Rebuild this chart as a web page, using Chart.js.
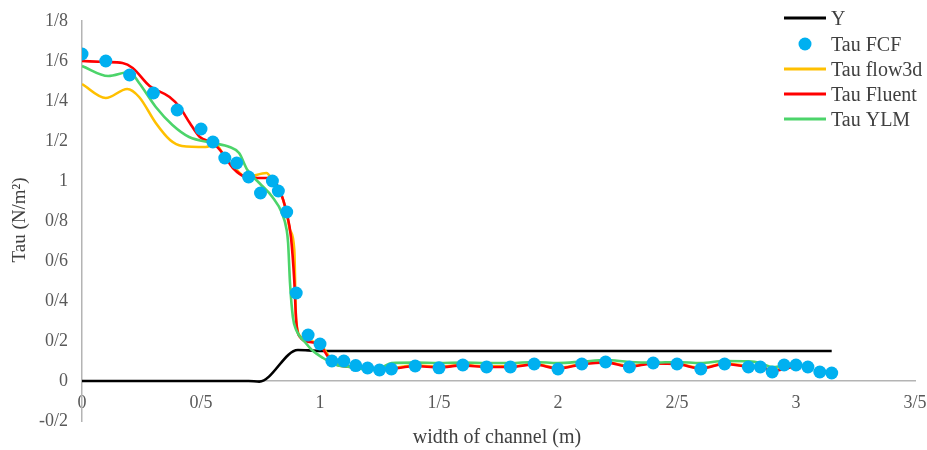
<!DOCTYPE html>
<html>
<head>
<meta charset="utf-8">
<title>Tau across channel width</title>
<script src="https://cdn.jsdelivr.net/npm/chart.js@4.4.1/dist/chart.umd.min.js"></script>
<style>
    html, body { margin: 0; padding: 0; background: #ffffff; }
    #wrap { width: 927px; height: 450px; }
</style>
</head>
<body>
<div id="wrap"><canvas id="tauChart" width="927" height="450"></canvas></div>
<script>
/* ---------------- DATA ---------------- */

// bed profile (Y)
const bedX = [0, 0.70, 0.745, 0.907, 0.95, 1.0, 3.15];
const bedY = [0, 0, -0.003, 0.155, 0.153, 0.15, 0.15];

// measured shear stress (Tau FCF)
const fcfX = [0, 0.1, 0.2, 0.3, 0.4, 0.5, 0.55, 0.6, 0.65, 0.7, 0.75, 0.8, 0.825, 0.86, 0.9,
    0.95, 1.0, 1.05, 1.1, 1.15, 1.2, 1.25, 1.3, 1.4, 1.5, 1.6, 1.7, 1.8, 1.9, 2.0,
    2.1, 2.2, 2.3, 2.4, 2.5, 2.6, 2.7, 2.8, 2.85, 2.9, 2.95, 3.0, 3.05, 3.1, 3.15];
const fcfY = [1.635, 1.60, 1.53, 1.44, 1.355, 1.26, 1.195, 1.115, 1.09, 1.02, 0.94, 1.0, 0.95, 0.845, 0.44,
    0.23, 0.185, 0.10, 0.10, 0.077, 0.065, 0.055, 0.06, 0.075, 0.066, 0.08, 0.07, 0.07, 0.085, 0.06,
    0.085, 0.095, 0.07, 0.09, 0.085, 0.06, 0.085, 0.07, 0.07, 0.045, 0.08, 0.08, 0.07, 0.045, 0.04];

// Tau flow3d
const flowX = [0, 0.1, 0.19, 0.24, 0.31, 0.37, 0.42, 0.52, 0.56, 0.6, 0.65, 0.69, 0.775, 0.8, 0.83,
    0.86, 0.874, 0.892, 0.899, 0.916, 0.958, 1.0, 1.034, 1.055, 1.126, 1.2, 1.25, 1.3, 1.4, 1.5,
    1.6, 1.7, 1.8, 1.9, 2.0, 2.1, 2.2, 2.3, 2.4, 2.5, 2.6, 2.7, 2.8, 2.85, 2.9, 3.0];
const flowY = [1.485, 1.415, 1.46, 1.42, 1.29, 1.205, 1.175, 1.17, 1.185, 1.12, 1.055, 1.02, 1.04, 1.005, 0.955,
    0.84, 0.755, 0.655, 0.32, 0.225, 0.2, 0.185, 0.13, 0.095, 0.073, 0.064, 0.058, 0.063, 0.078, 0.071,
    0.08, 0.073, 0.073, 0.085, 0.066, 0.085, 0.095, 0.075, 0.09, 0.087, 0.066, 0.087, 0.075, 0.072, 0.055, 0.078];

// Tau Fluent
const fluentX = [0, 0.1, 0.17, 0.213, 0.284, 0.368, 0.41, 0.453, 0.495, 0.55, 0.59, 0.634, 0.69, 0.76, 0.79,
    0.83, 0.86, 0.878, 0.892, 0.9, 0.916, 0.958, 1.0, 1.034, 1.055, 1.126, 1.2, 1.25, 1.3, 1.4,
    1.5, 1.6, 1.7, 1.8, 1.9, 2.0, 2.1, 2.2, 2.3, 2.4, 2.5, 2.6, 2.7, 2.8, 2.85, 2.9, 3.0];
const fluentY = [1.60, 1.595, 1.59, 1.565, 1.475, 1.42, 1.37, 1.29, 1.22, 1.19, 1.14, 1.065, 1.02, 1.015, 1.015,
    0.955, 0.84, 0.72, 0.5, 0.3, 0.22, 0.195, 0.18, 0.12, 0.09, 0.07, 0.062, 0.055, 0.06, 0.075,
    0.068, 0.078, 0.07, 0.07, 0.083, 0.063, 0.083, 0.093, 0.072, 0.088, 0.085, 0.063, 0.085, 0.072, 0.07, 0.05, 0.075];

// Tau YLM
const ylmX = [0, 0.11, 0.2, 0.24, 0.31, 0.38, 0.45, 0.55, 0.62, 0.66, 0.695, 0.745, 0.8, 0.84, 0.86,
    0.866, 0.874, 0.886, 0.9, 0.94, 0.966, 1.013, 1.07, 1.126, 1.22, 1.265, 1.3, 1.4, 1.5, 1.6,
    1.7, 1.8, 1.9, 2.0, 2.1, 2.2, 2.3, 2.4, 2.5, 2.6, 2.7, 2.8, 2.85, 2.9, 3.0];
const ylmY = [1.575, 1.525, 1.545, 1.49, 1.37, 1.28, 1.22, 1.19, 1.17, 1.14, 1.055, 0.99, 0.92, 0.84, 0.755,
    0.69, 0.49, 0.32, 0.255, 0.19, 0.155, 0.115, 0.08, 0.07, 0.055, 0.07, 0.09, 0.092, 0.09, 0.092,
    0.09, 0.09, 0.095, 0.09, 0.097, 0.105, 0.095, 0.092, 0.095, 0.09, 0.1, 0.098, 0.09, 0.07, 0.085];

const xTicks = [0, 0.5, 1, 1.5, 2, 2.5, 3, 3.5];
const yTicks = [-0.2, 0, 0.2, 0.4, 0.6, 0.8, 1, 1.2, 1.4, 1.6, 1.8];

const legendNames = ["Y", "Tau FCF", "Tau flow3d", "Tau Fluent", "Tau YLM"];

/* ---------------- HELPERS ---------------- */

const SERIF = "'Liberation Serif', 'Times New Roman', serif";

const COLORS = {
    bed: "#000000",
    fcf: "#00b0f0",
    flow: "#ffc000",
    fluent: "#ff0000",
    ylm: "#4cd46a"
};

function toPoints(xs, ys) {
    return xs.map((x, i) => ({ x: x, y: ys[i] }));
}

// decimal separator is a slash in the original figure
function slashLabel(v) {
    const r = Math.round(v * 10) / 10;
    return String(r).replace(".", "/");
}

function lineSet(label, xs, ys, color, order) {
    return {
        label: label,
        data: toPoints(xs, ys),
        showLine: true,
        borderColor: color,
        backgroundColor: color,
        borderWidth: 2.6,
        pointRadius: 0,
        cubicInterpolationMode: "monotone",
        order: order
    };
}

/* ---------------- LEGEND + TITLES ---------------- */

const overlayPlugin = {
    id: "overlay",
    afterDraw(chart) {
        const c = chart.ctx;
        const rows = [18, 44, 69, 94, 119];
        const colors = [COLORS.bed, COLORS.fcf, COLORS.flow, COLORS.fluent, COLORS.ylm];

        c.save();
        c.font = "20px " + SERIF;
        c.textBaseline = "middle";
        c.textAlign = "left";

        legendNames.forEach((name, i) => {
            const y = rows[i];
            if (i === 1) {
                c.fillStyle = colors[i];
                c.beginPath();
                c.arc(805, y, 6.5, 0, Math.PI * 2);
                c.fill();
            } else {
                c.strokeStyle = colors[i];
                c.lineWidth = 3;
                c.beginPath();
                c.moveTo(784, y);
                c.lineTo(826, y);
                c.stroke();
            }
            c.fillStyle = "#404040";
            c.fillText(name, 831, y + 1.5);
        });

        // axis titles
        c.fillStyle = "#404040";
        c.textAlign = "center";
        c.textBaseline = "alphabetic";
        c.fillText("width of channel (m)", 497, 443);

        c.font = "19px " + SERIF;
        c.translate(25, 220);
        c.rotate(-Math.PI / 2);
        c.fillText("Tau (N/m²)", 0, 0);
        c.restore();
    }
};

/* ---------------- CHART ---------------- */

const ctx = document.getElementById("tauChart").getContext("2d");

new Chart(ctx, {
    type: "scatter",
    data: {
        datasets: [
            {
                label: "Tau FCF",
                data: toPoints(fcfX, fcfY),
                showLine: false,
                pointRadius: 6.5,
                pointBorderWidth: 0,
                backgroundColor: COLORS.fcf,
                borderColor: COLORS.fcf,
                order: 0
            },
            lineSet("Tau YLM", ylmX, ylmY, COLORS.ylm, 1),
            lineSet("Tau Fluent", fluentX, fluentY, COLORS.fluent, 2),
            lineSet("Tau flow3d", flowX, flowY, COLORS.flow, 3),
            lineSet("Y", bedX, bedY, COLORS.bed, 4)
        ]
    },
    options: {
        responsive: false,
        animation: false,
        layout: {
            padding: { top: 21, right: 1, bottom: 29, left: 0 }
        },
        plugins: {
            legend: { display: false },
            tooltip: { enabled: false }
        },
        scales: {
            x: {
                type: "linear",
                position: { y: 0 },
                min: 0,
                max: 3.5,
                afterBuildTicks: scale => {
                    scale.ticks = xTicks.map(v => ({ value: v }));
                },
                afterFit: scale => {
                    scale.paddingLeft = 0;
                    scale.paddingRight = 12;
                },
                grid: { display: false, drawTicks: false },
                border: { display: true, color: "#b4b4b4", width: 1.5 },
                ticks: {
                    color: "#595959",
                    font: { family: SERIF, size: 18 },
                    padding: 11,
                    maxRotation: 0,
                    autoSkip: false,
                    callback: v => slashLabel(v)
                }
            },
            y: {
                type: "linear",
                min: -0.2,
                max: 1.8,
                afterBuildTicks: scale => {
                    scale.ticks = yTicks.map(v => ({ value: v }));
                },
                afterFit: scale => {
                    scale.width = 82;
                    scale.paddingTop = 0;
                    scale.paddingBottom = 0;
                },
                grid: { display: false, drawTicks: false },
                border: { display: true, color: "#b4b4b4", width: 1.5 },
                ticks: {
                    color: "#595959",
                    font: { family: SERIF, size: 18 },
                    padding: 14,
                    autoSkip: false,
                    callback: v => slashLabel(v)
                }
            }
        }
    },
    plugins: [overlayPlugin]
});
</script>
</body>
</html>
